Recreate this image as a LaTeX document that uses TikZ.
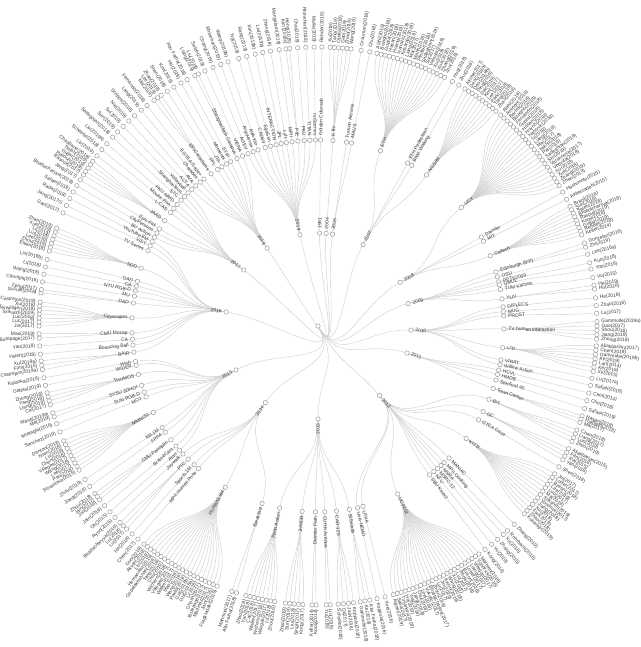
\documentclass[tikz,border=0pt]{standalone}
\usepackage{fontspec}
\setmainfont{Liberation Sans}
\definecolor{lkc}{HTML}{D0D0D0}
\definecolor{dotc}{HTML}{9A9A9A}
\definecolor{txc}{HTML}{3A3A3A}
\tikzset{
  lk/.style={draw=lkc, line width=0.45pt},
  dot/.style={circle, draw=dotc, fill=white, line width=0.5pt, inner sep=0pt, minimum size=4.4pt},
  lbl/.style={inner sep=0pt, text=txc, font=\fontsize{4.9}{5}\selectfont},
}
\newcount\nc
\newif\ifnodepass
\newcommand\lnk[4]{%
  \ifnodepass\else
  \pgfmathsetmacro\lnkm{((#2)+(#4))/2}%
  \draw[lk] ({90-(#1)}:#2) .. controls ({90-(#1)}:\lnkm) and ({90-(#3)}:\lnkm) .. ({90-(#3)}:#4);
  \fi}
\newcommand\dotlab[3]{%
  \ifnodepass
  \global\advance\nc by 1
  \pgfmathsetmacro\dla{90-(#1)}%
  \pgfmathtruncatemacro\dls{(#1)<180}%
  \node[dot] (v\the\nc) at (\dla:#2) {};
  \ifnum\dls=1
    \node[lbl, anchor=west, rotate=\dla] (t\the\nc) at (\dla:{#2+4.3}) {#3};
  \else
    \node[lbl, anchor=east, rotate=\dla+180] (t\the\nc) at (\dla:{#2+4.3}) {#3};
  \fi
  \fi}
\newcommand\grp[6]{%
  \lnk{#2}{186}{#1}{93}%
  \foreach \lb [count=\ii from 0] in {#6} {%
    \pgfmathsetmacro\lfa{#4+\ii*(#5)}%
    \lnk{\lfa}{279}{#2}{186}%
    \dotlab{\lfa}{279}{\lb}%
  }%
  \dotlab{#2}{186}{#3}}
\newcommand\yr[2]{\lnk{#1}{93}{150}{0}\dotlab{#1}{93}{#2}}
\newcommand\alldata{%
\yr{1}{1981} \yr{5}{2004} \yr{9}{2006} \yr{29}{2007} \yr{62}{2008} \yr{76}{2009}
\yr{92.5}{2010} \yr{106.9}{2011} \yr{138.5}{2012} \yr{180}{2013} \yr{214.5}{2014}
\yr{241.8}{2015} \yr{278.7}{2016} \yr{307}{2017} \yr{326.8}{2018} \yr{348.8}{2019}
\grp{1}{0.8}{Golden Colorado}{0.8}{0}{Rehder(2018)}
\grp{5}{4.6}{KTH}{2.5}{0.86}{Xu(2018),Tang(2019),Oprea(2019),Gao(2019),Zhao(2019),Wang(2019)}
\grp{9}{8.8}{Tucson Arizona}{8.9}{0}{Grauman(2019)}
\grp{9}{10.4}{MALIS}{10.7}{0}{Chu(2018)}
\grp{29}{19.6}{ETH}{12.2}{0.87}{Alahi(2016),Bisagno(2018),Gupta(2018),Hasan(2018),Huang(2019),Ivanovic(2019),Kosaraju(2019),Liang(2019),Ma(2017),Manh(2018),Pfeiffer(2018),Sadeghian(2019),Su(2017),Vemula(2018),Xu(2018),Xue(2018),Zhang(2019),Zou(2018)}
\grp{29}{28.8}{ETH Pedestrian}{28.8}{0}{Hug(2018)}
\grp{29}{30.3}{BIWI Walking}{30.3}{0}{Zhu(2019)}
\grp{29}{35.7}{NGSIM}{31.8}{0.87}{Altche(2017),Deo(2018a),Deo(2018b),Ding(2019),Dai(2019),Kim(2017),Lee(2017),Park(2018),Tang(2019),Zhao(2019)}
\grp{62}{50.4}{UCY}{40.9}{0.9}{Alahi(2016),Amirian(2019),Bartoli(2018),Bisagno(2018),Fernando(2018),Gupta(2018),Hasan(2018),Huynh(2019),Ivanovic(2019),Li(2019),Liang(2019),Ma(2017),Nikhil(2018),Pei(2019),Sadeghian(2019),Shi(2019),Varshneya(2017),Vemula(2018),Xu(2018),Xue(2018),Zhang(2019),Zhao(2019)}
\grp{62}{61.4}{Daimler}{61.3}{0}{Hashimoto(2015)}
\grp{62}{62.9}{MIT}{63}{0}{Akbarzadeh(2015)}
\grp{62}{67.8}{Caltech}{64.6}{0.79}{Brazil(2018),Sun(2019),Saleh(2018),Bhattacharyya(2018),Rasouli(2019),Kooij(2014),Gujjar(2019),Rehder(2018),Keller(2014)}
\grp{76}{73.1}{Edinburgh (IFP)}{72.7}{0.9}{Gonzalez(2016),Zhi(2019)}
\grp{76}{74.7}{OSU}{75.1}{0}{Lee(2016a)}
\grp{76}{76.3}{PETS2009}{76.9}{0}{Kuo(2018)}
\grp{76}{77.2}{QMUL}{78.2}{0}{Yoo(2016)}
\grp{76}{78.7}{TUM Kitchen}{80}{0}{Vu(2015)}
\grp{76}{81.6}{YUV}{81.6}{0.8}{He(2019),Ho(2020)}
\grp{92.5}{84.1}{DIPLECS}{84.2}{0}{He(2018)}
\grp{92.5}{85.6}{MUG}{85.8}{0}{Zhao(2016)}
\grp{92.5}{86.9}{PROST}{87.4}{0}{Lu(2017)}
\grp{92.5}{90.9}{TV human interaction}{89.1}{0.9}{Gammulle(2019a),Gao(2017),Shou(2016),Jiang(2019),Zhong(2018)}
\grp{92.5}{96.7}{UTI}{94.1}{0.88}{Aliakbarian(2017),Chen(2019),Gammulle(2019b),Ke(2019),Lan(2014),Ke(2016),Xu(2015)}
\grp{92.5}{100.5}{VIRAT}{100.8}{0}{Lu(2017a)}
\grp{92.5}{102}{Willow Action}{102.3}{0}{Safaei(2018)}
\grp{106.9}{103.7}{HCVL}{103.9}{0}{Choi(2014)}
\grp{106.9}{105.1}{HMDB}{105.5}{0}{Cho(2018)}
\grp{106.9}{106.9}{Stanford 40}{107.2}{0}{Safaei(2019)}
\grp{106.9}{109.6}{Town Center}{108.8}{0.7}{Hasan(2018),Hadfield(2018),Ma(2017)}
\grp{138.5}{113.2}{BIT}{111.9}{0.85}{Chen(2018),Liang(2017),Luo(2019),Zhou(2019)}
\grp{138.5}{117.4}{GC}{116.1}{0.85}{Aliakbarian(2015),Fan(2018),Xia(2015),Yao(2018)}
\grp{138.5}{120.3}{GTEA Gaze}{120.3}{0}{Shen(2018)}
\grp{138.5}{127.2}{KITTI}{122}{0.86}{Jin(2017),Lotter(2017),Byeon(2018),Lee(2019),Luo(2017),Ma(2019),Srikanth(2019),Vondrick(2017),Jiang(2018),Xu(2018),Fan(2019),Zhao(2018),Kosaraju(2019)}
\grp{138.5}{135.2}{MANIAC}{135.3}{0}{Zhang(2019)}
\grp{138.5}{137.3}{MPII Cooking}{137.2}{0}{Rohrbach(2016)}
\grp{138.5}{138.6}{MSRA}{138.4}{0}{Xu(2016)}
\grp{138.5}{140}{MSRC-12}{139.9}{0}{Zhang(2015)}
\grp{138.5}{141.5}{NTU}{141.5}{0}{Yu(2019)}
\grp{138.5}{143.2}{SBU Kinect}{143.2}{0}{Kong(2014)}
\grp{138.5}{154.6}{UCF101}{144.8}{0.85}{Mathieu(2016),Vondrick(2016),Villegas(2017),Liang(2017),Lotter(2017),Byeon(2018),Reda(2018),Liu(2017),Xu(2018),Wang(2018),Kwon(2019),Jin(2020),Lu(2017),Zhou(2016),Bhattacharjee(2017),Vukotic(2017),Lee(2018),Oliu(2018),Jang(2018),Ying(2018),Ho(2019),Tulyakov(2018),Saito(2017),Aigner(2019)}
\grp{138.5}{166}{UTKA}{166.1}{0}{Xue(2016)}
\grp{138.5}{167.7}{UvA-NEMO}{167.8}{0}{Koppula(2016)}
\grp{180}{170.3}{50Salads}{169.3}{1}{Abu Farha(2018),Ke(2019),Gammulle(2019)}
\grp{180}{174.3}{CAD-120}{172.7}{1.05}{Koppula(2016),Jain(2016),Qi(2017),Schydlo(2018)}
\grp{180}{177.9}{CUHK Avenue}{177.5}{0.8}{Liu(2018),Yu(2019)}
\grp{180}{180.8}{Daimler Path}{180.4}{0.8}{Kooij(2014),Keller(2014)}
\grp{180}{184.9}{JHMDB}{183.1}{0.9}{Kong(2017),Singh(2017),Liu(2018),Sun(2019),Zhao(2019)}
\grp{180}{191.9}{Penn Action}{188.9}{0.87}{Zhou(2016),Li(2018),Villegas(2017),Wichers(2018),Walker(2017),Cai(2018),Yan(2018),Zhao(2018)}
\grp{214.5}{197.5}{Breakfast}{197}{1}{Abu Farha(2018),Mahmud(2017)}
\grp{214.5}{209.9}{Human3.6M}{201.2}{0.87}{Fragkiadaki(2015),Jain(2016),Martinez(2017),Butepage(2017),Ghosh(2017),Li(2018),Gui(2018a),Gui(2018b),Pavllo(2019),Wang(2019),Mao(2019),Walker(2017),Villegas(2017),Wichers(2018),Chiu(2019),Tang(2018),Gopalakrishnan(2019),Hernandez(2019),Liu(2019),Aksan(2019),Guo(2019)}
\grp{214.5}{220}{MPII Human Pose}{220.2}{0}{Chen(2017)}
\grp{214.5}{221.8}{Sports-1M}{221.8}{0}{He(2018)}
\grp{214.5}{224.3}{PTC}{223.3}{0.95}{Lu(2017),Lu(2018),Bhattacharyya(2019)}
\grp{214.5}{226.5}{Jaywalk}{226.7}{0}{Ryoo(2016)}
\grp{241.8}{228.1}{Atari}{228.2}{0}{Oh(2015)}
\grp{241.8}{229.8}{Brain4Cars}{229.9}{0}{Jain(2016)}
\grp{241.8}{232.3}{CMU Panoptic}{231.5}{0.8}{Joo(2019),Jain(2017),Zhou(2018)}
\grp{241.8}{235.2}{FPPA}{234.9}{0}{Jiang(2019)}
\grp{241.8}{236.9}{Mit-1M}{236.6}{0}{Zhou(2019)}
\grp{241.8}{242.3}{MMNIST}{238.9}{0.85}{Srivastava(2015),Pan(2018),Lee(2017),Wang(2018),Villegas(2017),Chen(2018),Lu(2019),Nam(2018),Denton(2018)}
\grp{241.8}{247.6}{MOT}{247.7}{0}{Sanchez(2019)}
\grp{241.8}{249.2}{SUN RGB-D}{249.5}{0}{Mottaghi(2016)}
\grp{241.8}{251.4}{SYSU 3DHOI}{251}{0.85}{Ma(2019),Wang(2019a)}
\grp{241.8}{254.9}{THUMOS}{253.6}{0.85}{Cai(2017),Liang(2019),Yang(2018),Zhong(2018)}
\grp{241.8}{257.8}{WIDER}{257.7}{0}{Gattas(2019)}
\grp{241.8}{259}{Wish}{259.3}{0}{Kataoka(2016)}
\grp{278.7}{261.9}{BAIR}{261}{0.9}{Castrejon(2019a),Finn(2016),Xu(2018a)}
\grp{278.7}{264.1}{Bouncing Ball}{264.2}{0}{Hsieh(2018)}
\grp{278.7}{265.9}{CA}{265.9}{0}{Yao(2018)}
\grp{278.7}{267.9}{CMU Mocap}{267.5}{0.9}{Butepage(2017),Mao(2019)}
\grp{278.7}{272.5}{Cityscapes}{270}{0.82}{Jin(2017),Luc(2017),Luc(2018),Srikanth(2019),Terwilliger(2019),Xu(2018),Castrejon(2019)}
\grp{278.7}{277.1}{DAD}{276.8}{0.7}{Suzuki(2018),Zeng(2017)}
\grp{278.7}{279.2}{MU}{279.1}{0}{Carvajal(2016)}
\grp{278.7}{280.9}{NTU RGB-D}{280.7}{0}{Wang(2018)}
\grp{278.7}{282.4}{OA}{282.2}{0}{Li(2018)}
\grp{278.7}{283.9}{OAD}{283.8}{0}{Liu(2018b)}
\grp{278.7}{288.1}{SDD}{285.6}{0.82}{Ellian(2018),Zhou(2019),Lee(2019),Liu(2019),Li(2019),Xue(2019),Zhao(2019)}
\grp{278.7}{293.9}{TV Series}{293.9}{0}{Gao(2017)}
\grp{278.7}{295.5}{VIST}{295.6}{0}{Jang(2017c)}
\grp{278.7}{297}{YouTube-8M}{297.2}{0}{Rada(2018)}
\grp{307}{298.5}{BU Action}{298.7}{0}{Safaei(2019)}
\grp{307}{300}{CityPersons}{300.2}{0}{Bhattacharyya(2018)}
\grp{307}{301.5}{Epic-Fail}{301.6}{0}{Jang(2017)}
\grp{307}{304.5}{JAAD}{302.8}{0.85}{Rasouli(2017),Rasouli(2019),Gujjar(2019),Saleh(2019),Chaabane(2019)}
\grp{307}{307.6}{L-CAS}{307.6}{0}{Liu(2019)}
\grp{307}{309.2}{Mouse Fish}{309.2}{0}{Schaefer(2018)}
\grp{307}{310.8}{PKU-MMD}{310.8}{0}{Liu(2019a)}
\grp{307}{312.6}{STC}{312.6}{0}{Sadeghian(2018)}
\grp{307}{314.1}{ShanghaiTech}{314.1}{0}{Sun(2019)}
\grp{307}{315.7}{Volleyball}{315.7}{0}{Su(2019)}
\grp{326.8}{317.3}{ACT4}{317.3}{0}{Nie(2019)}
\grp{326.8}{318.9}{AVA}{318.9}{0}{Scripps(2018)}
\grp{326.8}{320.7}{Charades}{320.7}{0}{Lang(2019)}
\grp{326.8}{322.2}{EGTEA Gaze+}{322.2}{0}{Fernando(2018)}
\grp{326.8}{324.9}{EPIC-Kitchens}{324}{0.9}{Ma(2019),Lee(2019),Zhao(2019)}
\grp{326.8}{327.3}{FPL}{327.3}{0}{Shen(2018)}
\grp{326.8}{328.9}{JTA}{328.9}{0}{Kim(2019)}
\grp{326.8}{330.6}{Moments}{330.6}{0}{He(2019)}
\grp{326.8}{332}{STIP}{332}{0}{Abu Farha(2018)}
\grp{326.8}{334.2}{ShanghaiTech Campus}{333.8}{0.8}{Liang(2019),Liu(2018)}
\grp{326.8}{336.1}{VIENA}{336.1}{0}{Saleh(2019)}
\grp{348.8}{337.9}{ActEV}{337.9}{0}{Chang(2019)}
\grp{348.8}{339.6}{Argoverse}{339.6}{0}{Rhinehart(2019)}
\grp{348.8}{341.2}{AVA-Kin}{341.2}{0}{Wang(2019b)}
\grp{348.8}{343.5}{CAD60}{343.5}{0}{Ng(2019)}
\grp{348.8}{345.2}{EgoSim}{345.2}{0}{Rang(2019)}
\grp{348.8}{347}{INTERACTION}{347}{0}{Kim(2019b)}
\grp{348.8}{348.6}{JPL}{348.6}{0}{Liu(2019b)}
\grp{348.8}{350.2}{Lyft}{350.2}{0}{Zhang(2018)}
\grp{348.8}{352}{MPII}{352}{0}{Mangalam(2019)}
\grp{348.8}{353.8}{PIE}{353.4}{0.8}{Kim(2019c),Hong(2019)}
\grp{348.8}{355.8}{PKU}{355.8}{0}{Chai(2019)}
\grp{348.8}{357.5}{TITAN}{357.5}{0}{Rhinehart(2018)}
\grp{348.8}{359.2}{nuScenes}{359.2}{0}{Malla(2019)}
}
\begin{document}
\begin{tikzpicture}[x=1pt,y=1pt]
\useasboundingbox (-318,-321) rectangle (322,326);
\nodepassfalse
\alldata
\nodepasstrue
\node[dot] (root) at (0,0) {};
\alldata
\end{tikzpicture}
\end{document}
